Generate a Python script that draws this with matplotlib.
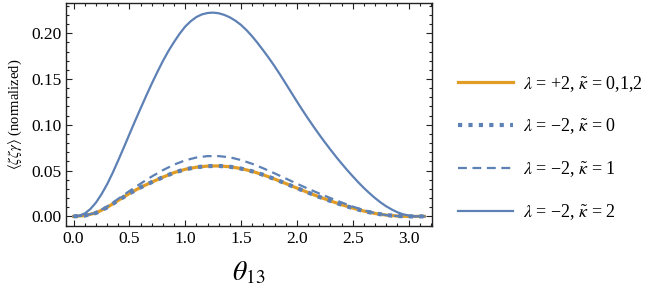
import numpy as np
import matplotlib
matplotlib.use("Agg")
import matplotlib.pyplot as plt
from matplotlib.ticker import MultipleLocator

plt.rcParams["font.family"] = ["Liberation Serif", "DejaVu Serif"]
plt.rcParams["mathtext.fontset"] = "stix"

# values
theta = [0.0, 0.1, 0.2, 0.3, 0.4, 0.5, 0.6, 0.7, 0.8, 0.9, 1.0, 1.1, 1.2, 1.3, 1.4, 1.5,
         1.6, 1.7, 1.8, 1.9, 2.0, 2.1, 2.2, 2.3, 2.4, 2.5, 2.6, 2.7, 2.8, 2.9, 3.0, 3.1, np.pi]

# lambda = +2 (all kappa) and lambda = -2, kappa = 0 coincide
y_plus = [0.0, 0.0009, 0.0037, 0.0098, 0.0175, 0.0250, 0.0317, 0.0374, 0.0428, 0.0478, 0.0514,
          0.0537, 0.0549, 0.0551, 0.0542, 0.0522, 0.0492, 0.0453, 0.0408, 0.0359, 0.0309,
          0.0260, 0.0213, 0.0169, 0.0128, 0.0091, 0.0058, 0.0032, 0.0014, 0.0004, 0.0, 0.0, 0.0]
y_k0 = y_plus
y_k1 = [0.0, 0.0009, 0.0040, 0.0108, 0.0192, 0.0277, 0.0358, 0.0435, 0.0505, 0.0565, 0.0612,
        0.0643, 0.0658, 0.0658, 0.0645, 0.0615, 0.0574, 0.0524, 0.0470, 0.0414, 0.0357,
        0.0302, 0.0250, 0.0200, 0.0152, 0.0107, 0.0068, 0.0036, 0.0014, 0.0003, 0.0, 0.0, 0.0]

# the big curve is read on a finer grid
theta_k2 = [0.0, 0.05, 0.1, 0.15, 0.2, 0.25, 0.3, 0.35, 0.4, 0.45, 0.5, 0.55, 0.6, 0.65, 0.7,
            0.75, 0.8, 0.85, 0.9, 0.95, 1.0, 1.05, 1.1, 1.15, 1.2, 1.25, 1.3, 1.35, 1.4, 1.45,
            1.5, 1.55, 1.6, 1.65, 1.7, 1.75, 1.8, 1.85, 1.9, 1.95, 2.0, 2.05, 2.1, 2.15, 2.2,
            2.25, 2.3, 2.35, 2.4, 2.45, 2.5, 2.55, 2.6, 2.65, 2.7, 2.75, 2.8, 2.85, 2.9, 2.95,
            3.0, 3.05, 3.1, np.pi]
y_k2 = [0.0, 0.0008, 0.0032, 0.0080, 0.0150, 0.0242, 0.0350, 0.0475, 0.0612, 0.0753, 0.0897,
        0.1040, 0.1179, 0.1316, 0.1449, 0.1576, 0.1697, 0.1807, 0.1905, 0.1995, 0.2073,
        0.2132, 0.2177, 0.2206, 0.2221, 0.2225, 0.2218, 0.2200, 0.2173, 0.2136, 0.2090,
        0.2032, 0.1965, 0.1890, 0.1810, 0.1727, 0.1640, 0.1547, 0.1450, 0.1352, 0.1255,
        0.1160, 0.1068, 0.0979, 0.0893, 0.0810, 0.0730, 0.0652, 0.0578, 0.0506, 0.0438,
        0.0372, 0.0310, 0.0253, 0.0200, 0.0152, 0.0110, 0.0075, 0.0045, 0.0023, 0.0010,
        0.0003, 0.0, 0.0]

labels = [r"$\lambda$ = +2, $\tilde{\kappa}$ = 0,1,2",
          r"$\lambda$ = −2, $\tilde{\kappa}$ = 0",
          r"$\lambda$ = −2, $\tilde{\kappa}$ = 1",
          r"$\lambda$ = −2, $\tilde{\kappa}$ = 2"]

orange = "#E09C24"
blue = "#5E81B5"

fig = plt.figure(figsize=(6.54, 2.95), dpi=100)
ax = fig.add_axes([66/654, (295-226)/295, (432-66)/654, (226-3)/295])

ax.plot(theta, y_plus, color=orange, lw=2.3, label=labels[0])
ax.plot(theta, y_k0, color=blue, lw=3.0, linestyle=(0, (1, 1.5)), label=labels[1])
ax.plot(theta, y_k1, color=blue, lw=1.6, linestyle=(0, (4, 2.5)), label=labels[2])
ax.plot(theta_k2, y_k2, color=blue, lw=1.6, label=labels[3])

ax.set_xlim(-0.068, 3.21)
ax.set_ylim(-0.0105, 0.233)
ax.xaxis.set_major_locator(MultipleLocator(0.5))
ax.xaxis.set_minor_locator(MultipleLocator(0.1))
ax.yaxis.set_major_locator(MultipleLocator(0.05))
ax.yaxis.set_minor_locator(MultipleLocator(0.01))
ax.xaxis.set_major_formatter(plt.FormatStrFormatter("%.1f"))
ax.yaxis.set_major_formatter(plt.FormatStrFormatter("%.2f"))
ax.tick_params(which="both", direction="in", top=True, right=True, labelsize=12.5, width=0.8, color="#222222")
ax.tick_params(which="major", length=4)
ax.tick_params(which="minor", length=2)
for s in ax.spines.values():
    s.set_linewidth(1.0)
    s.set_color("#222222")

ax.set_xlabel(r"$\theta_{13}$", fontsize=20, labelpad=9)
ax.set_ylabel(r"$\langle\zeta\zeta\gamma\rangle$ (normalized)", fontsize=10.5, labelpad=5)

fig.legend(loc="center left", bbox_to_anchor=(442/654, 147/295), frameon=False, fontsize=13,
           handlelength=3.05, handletextpad=0.55, labelspacing=1.28)

fig.savefig("out.png", dpi=100)
